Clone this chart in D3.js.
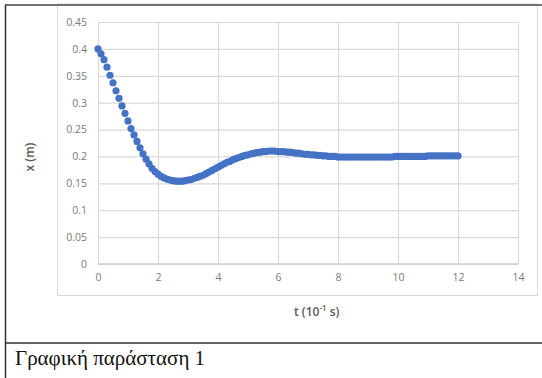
<!DOCTYPE html>
<html>
<head>
<meta charset="utf-8">
<script src="https://cdn.jsdelivr.net/npm/d3@7"></script>
<style>
  html, body { margin: 0; padding: 0; background: #ffffff; }
  svg { display: block; }
</style>
</head>
<body>
<svg id="chart" width="542" height="378"></svg>
<script>
// ---- data ----
const timeStep = 0.1; // in units of 10^-1 s
const xValues = [
  0.400, 0.391, 0.380, 0.366, 0.351, 0.337, 0.322, 0.308, 0.294, 0.280,
  0.266, 0.252, 0.240, 0.228, 0.216, 0.205, 0.195, 0.186, 0.178, 0.172,
  0.167, 0.163, 0.160, 0.158, 0.156, 0.155, 0.154, 0.154, 0.154, 0.155,
  0.156, 0.157, 0.159, 0.161, 0.163, 0.165, 0.168, 0.171, 0.174, 0.177,
  0.180, 0.183, 0.186, 0.189, 0.191, 0.194, 0.196, 0.198, 0.200, 0.202,
  0.203, 0.205, 0.206, 0.207, 0.208, 0.209, 0.209, 0.210, 0.210, 0.210,
  0.209, 0.209, 0.209, 0.208, 0.208, 0.207, 0.206, 0.206, 0.205, 0.204,
  0.204, 0.203, 0.203, 0.202, 0.202, 0.201, 0.201, 0.200, 0.200, 0.200,
  0.199, 0.199, 0.199, 0.199, 0.199, 0.199, 0.199, 0.199, 0.199, 0.199,
  0.199, 0.199, 0.199, 0.199, 0.199, 0.199, 0.199, 0.199, 0.199, 0.200,
  0.200, 0.200, 0.200, 0.200, 0.200, 0.200, 0.200, 0.200, 0.200, 0.200,
  0.201, 0.201, 0.201, 0.201, 0.201, 0.201, 0.201, 0.201, 0.201, 0.201,
  0.201
];
const tValues = xValues.map((_, i) => +(i * timeStep).toFixed(1));
const xTicks = [0, 2, 4, 6, 8, 10, 12, 14];
const yTicks = [0, 0.05, 0.1, 0.15, 0.2, 0.25, 0.3, 0.35, 0.4, 0.45];
const xTitle = "t (10";
const xTitleSup = "-1";
const xTitleEnd = " s)";
const yTitle = "x (m)";
const caption = "Γραφική παράσταση 1";

// ---- drawing ----
const svg = d3.select("#chart");
const x = d3.scaleLinear().domain([0, 14]).range([98, 518]);
const y = d3.scaleLinear().domain([0, 0.45]).range([264, 22]);
const font = "'Open Sans', 'Liberation Sans', sans-serif";

// chart area border
svg.append("rect")
  .attr("x", 57.5).attr("y", 4).attr("width", 480).attr("height", 291.5)
  .attr("fill", "#fff").attr("stroke", "#d9d9d9").attr("stroke-width", 1);

// gridlines via axes
const gy = svg.append("g")
  .attr("transform", `translate(${x(0)},0)`)
  .call(d3.axisLeft(y).tickValues(yTicks).tickSize(-(x(14) - x(0))).tickFormat(d => d3.format("")(+d.toFixed(2))).tickPadding(11));
gy.select(".domain").remove();
gy.selectAll(".tick line").attr("stroke", "#d9d9d9").attr("stroke-width", 1.2);
gy.selectAll(".tick text").attr("fill", "#7a7a7a").style("font-family", font).style("font-size", "10.5px");

const gx = svg.append("g")
  .attr("transform", `translate(0,${y(0)})`)
  .call(d3.axisBottom(x).tickValues(xTicks).tickSize(-(y(0) - y(0.45))).tickPadding(10));
gx.select(".domain").remove();
gx.selectAll(".tick line").attr("stroke", "#d9d9d9").attr("stroke-width", 1.2);
gx.selectAll(".tick text").attr("fill", "#7a7a7a").style("font-family", font).style("font-size", "10.5px");

// axis baseline
svg.append("line")
  .attr("x1", x(0)).attr("x2", x(14)).attr("y1", y(0)).attr("y2", y(0))
  .attr("stroke", "#cfcfcf").attr("stroke-width", 1.3);

// markers
svg.append("g").selectAll("circle")
  .data(xValues)
  .join("circle")
  .attr("cx", (d, i) => x(tValues[i]))
  .attr("cy", d => y(d))
  .attr("r", 3.6)
  .attr("fill", "#4472C4");

// axis titles
svg.append("text")
  .attr("transform", "translate(34,157) rotate(-90)")
  .attr("text-anchor", "middle")
  .attr("fill", "#595959")
  .style("font-family", font).style("font-size", "12px").style("font-weight", "600")
  .text(yTitle);

const xt = svg.append("text")
  .attr("x", 294).attr("y", 316)
  .attr("fill", "#595959")
  .style("font-family", font).style("font-size", "12px").style("font-weight", "600");
xt.append("tspan").text(xTitle);
xt.append("tspan").attr("dy", -5).style("font-size", "8px").text(xTitleSup);
xt.append("tspan").attr("dy", 5).text(xTitleEnd);

// frame lines
svg.append("line").attr("x1", 5.5).attr("x2", 5.5).attr("y1", 4.5).attr("y2", 378)
  .attr("stroke", "#333").attr("stroke-width", 1.5);
svg.append("line").attr("x1", 5).attr("x2", 542).attr("y1", 5).attr("y2", 5)
  .attr("stroke", "#444").attr("stroke-width", 1.5);
svg.append("line").attr("x1", 5).attr("x2", 542).attr("y1", 343).attr("y2", 343)
  .attr("stroke", "#333").attr("stroke-width", 1.5);

// caption
svg.append("text")
  .attr("x", 15).attr("y", 365)
  .attr("fill", "#111")
  .style("font-family", "'Liberation Serif', 'Times New Roman', serif")
  .style("font-size", "21px")
  .text(caption);
</script>
</body>
</html>
